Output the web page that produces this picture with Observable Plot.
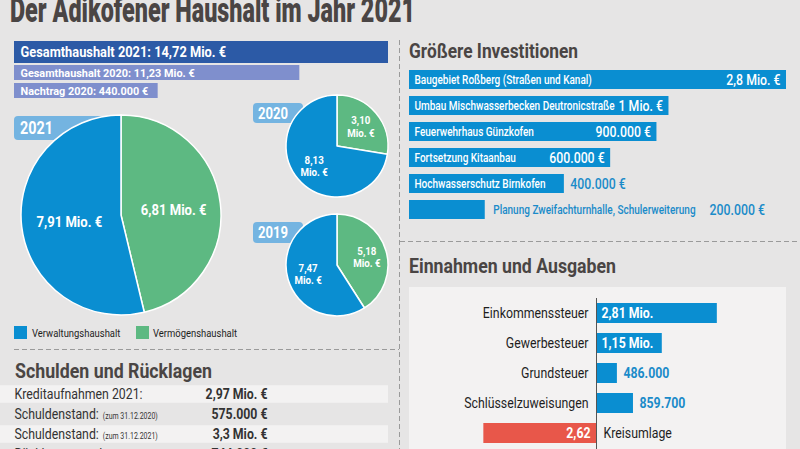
<!DOCTYPE html>
<html><head><meta charset="utf-8">
<script src="https://cdn.jsdelivr.net/npm/d3@7"></script>
<script src="https://cdn.jsdelivr.net/npm/@observablehq/plot@0.6"></script>
<style>
html,body{margin:0;padding:0;background:#e6e5e5;}
#root{position:relative;width:800px;height:449px;overflow:hidden;background:#e6e5e5;}
</style></head><body><div id="root"></div>
<script>
// ---------- data ----------
const pageTitle = "Der Adikofener Haushalt im Jahr 2021";
const sectionTitles = ["Größere Investitionen", "Einnahmen und Ausgaben", "Schulden und Rücklagen"];

const totalLabels = ["Gesamthaushalt 2021: 14,72 Mio. €", "Gesamthaushalt 2020: 11,23 Mio. €", "Nachtrag 2020: 440.000 €"];
const totalValues = [14.72, 11.23, 0.44];

const pieYears = ["2021", "2020", "2019"];
const legendNames = ["Verwaltungshaushalt", "Vermögenshaushalt"];
const pieVerwaltung = [7.91, 8.13, 7.47];
const pieVermoegen = [6.81, 3.10, 5.18];
const pieLabelsVerw = ["7,91 Mio. €", "8,13\nMio. €", "7,47\nMio. €"];
const pieLabelsVerm = ["6,81 Mio. €", "3,10\nMio. €", "5,18\nMio. €"];

const investNames = ["Baugebiet Roßberg (Straßen und Kanal)", "Umbau Mischwasserbecken Deutronicstraße", "Feuerwehrhaus Günzkofen", "Fortsetzung Kitaanbau", "Hochwasserschutz Birnkofen", "Planung Zweifachturnhalle, Schulerweiterung"];
const investValues = [2.8, 1.0, 0.9, 0.6, 0.4, 0.2];
const investLabels = ["2,8 Mio. €", "1 Mio. €", "900.000 €", "600.000 €", "400.000 €", "200.000 €"];

const debtNames = ["Kreditaufnahmen 2021:", "Schuldenstand:", "Schuldenstand:", "Rücklagenstand:"];
const debtNotes = ["", "(zum 31.12.2020)", "(zum 31.12.2021)", ""];
const debtValues = ["2,97 Mio. €", "575.000 €", "3,3 Mio. €", "744.000 €"];

const flowNames = ["Einkommenssteuer", "Gewerbesteuer", "Grundsteuer", "Schlüsselzuweisungen", "Kreisumlage"];
const flowValues = [2.81, 1.15, 0.486, 0.8597, -2.62];
const flowLabels = ["2,81 Mio.", "1,15 Mio.", "486.000", "859.700", "2,62"];

// ---------- styles ----------
const C = {bg:"#e6e5e5", panel:"#f3f2f2", title:"#4a4544", text:"#1e1e1e", blue:"#0a8ed1", blueText:"#1a8bc9",
  green:"#5db982", navy:"#2c5aa6", lav:"#7f8fcd", tab:"#74b4e1", red:"#e8574a", dash:"#9a9a9a"};
const FONT = "Roboto, 'Liberation Sans', sans-serif";
const K = 0.82;
const root = document.getElementById("root");
const W = 800, H = 449;

const ctx = document.createElement("canvas").getContext("2d");
function tw(s, size, weight = 400, k = K) { ctx.font = `${weight} ${size}px Roboto`; return ctx.measureText(s).width * k; }
function squeeze(el, k) {
  if (el.hasAttribute("textLength")) return;
  const L = el.getComputedTextLength();
  if (L > 0) { el.setAttribute("textLength", L * k); el.setAttribute("lengthAdjust", "spacingAndGlyphs"); }
}
function condense(svg, k) {
  svg.querySelectorAll("text").forEach(t => {
    const ts = t.querySelectorAll("tspan");
    if (ts.length) ts.forEach(s => squeeze(s, k)); else squeeze(t, k);
  });
}
function mount(svg, left = 0, top = 0, k = K) {
  svg.style.position = "absolute"; svg.style.left = left + "px"; svg.style.top = top + "px";
  root.appendChild(svg); condense(svg, k); return svg;
}
const baseStyle = {background: "transparent", fontFamily: FONT, overflow: "visible"};
const colorScale = d3.scaleOrdinal(legendNames, [C.blue, C.green]);

// ---------- decoration layer ----------
const decor = d3.create("svg").attr("width", W).attr("height", H).attr("font-family", FONT);
decor.append("rect").attr("x", 409).attr("y", 287).attr("width", 377).attr("height", 170).attr("fill", C.panel);
const dashes = [[399.5, 40, 399.5, 449], [400, 241.5, 800, 241.5], [14, 349.5, 399, 349.5]];
dashes.forEach(([x1, y1, x2, y2]) => decor.append("line").attr("x1", x1).attr("y1", y1).attr("x2", x2).attr("y2", y2)
  .attr("stroke", C.dash).attr("stroke-width", 1).attr("stroke-dasharray", "5 3"));
function title(text, x, y, size, width, weight = 700) {
  decor.append("text").attr("x", x).attr("y", y).attr("font-size", size).attr("font-weight", weight)
    .attr("fill", C.title).attr("textLength", width).attr("lengthAdjust", "spacingAndGlyphs").text(text);
}
title(pageTitle, 10, 21.5, 35, 405, 900);
title(sectionTitles[0], 409, 57.7, 20, 169);
title(sectionTitles[1], 409, 273.3, 20, 207);
title(sectionTitles[2], 15, 378, 20, 197);
// year tabs
const tabs = [{x:14, y:116, w:90, h:24, tx:20, ty:133.5, fs:17.5}, {x:253, y:103, w:50, h:20, tx:258, ty:118.5, fs:16}, {x:253, y:222, w:50, h:21, tx:258, ty:238, fs:16}];
pieYears.forEach((yr, i) => {
  const t = tabs[i];
  decor.append("rect").attr("x", t.x).attr("y", t.y).attr("width", t.w).attr("height", t.h).attr("rx", 4).attr("fill", C.tab);
  decor.append("text").attr("x", t.tx).attr("y", t.ty).attr("font-size", t.fs).attr("font-weight", 700).attr("fill", "white").text(yr);
});
// legend
const legendPos = [{x:14, tx:32}, {x:136, tx:153}];
legendNames.forEach((n, i) => {
  decor.append("rect").attr("x", legendPos[i].x).attr("y", 326).attr("width", 13).attr("height", 13).attr("fill", colorScale(n));
  decor.append("text").attr("x", legendPos[i].tx).attr("y", 336.5).attr("font-size", 11.5).attr("fill", C.text).text(n);
});
mount(decor.node(), 0, 0);

// ---------- total budget bars ----------
const KT = 0.93;
const totDomain = [0, d3.max(totalValues)], totRange = [14, 388];
const totX = d3.scaleLinear(totDomain, totRange);
const totRows = [{h:22, top:41, size:13.8, fill:C.navy}, {h:15, top:65, size:11.7, fill:C.lav}, {h:15, top:83, size:11.7, fill:C.lav}];
totalValues.forEach((v, i) => {
  const r = totRows[i];
  const textW = tw(totalLabels[i], r.size, 700, KT);
  const end = Math.max(v, totX.invert(totRange[0] + 6 + textW + 10));
  const d = [{v, end, label: totalLabels[i]}];
  mount(Plot.plot({
    width: 400, height: r.h, margin: 0, style: baseStyle,
    x: {domain: totDomain, range: totRange, axis: null},
    marks: [
      Plot.barX(d, {x1: 0, x2: "end", fill: r.fill}),
      Plot.text(d, {x: 0, dx: 6, text: "label", textAnchor: "start", fill: "white", fontWeight: 700, fontSize: r.size})
    ]
  }), 0, r.top, KT);
});

// ---------- pies ----------
const pieLayout = [{cx:121, cy:215, r:100, fs:14.5, k:1.05}, {cx:336.5, cy:146, r:51, fs:10.8, k:1.2}, {cx:336.5, cy:264.5, r:51, fs:10.8, k:1.2}];
function pieMark(arcs) {
  return (index, scales) => {
    const cx = scales.x(0), cy = scales.y(0), R = scales.x(1) - scales.x(0);
    const g = d3.create("svg:g").attr("transform", `translate(${cx},${cy})`);
    g.selectAll("path").data(arcs).join("path")
      .attr("d", d3.arc().innerRadius(0).outerRadius(R))
      .attr("fill", a => colorScale(a.data.name))
      .attr("stroke", "white").attr("stroke-width", 1.5).attr("stroke-linejoin", "round");
    return g.node();
  };
}
pieYears.forEach((yr, i) => {
  const L = pieLayout[i];
  const slices = [
    {name: legendNames[1], value: pieVermoegen[i], label: pieLabelsVerm[i]},
    {name: legendNames[0], value: pieVerwaltung[i], label: pieLabelsVerw[i]}
  ];
  const arcs = d3.pie().sort(null).value(d => d.value)(slices);
  const unitArc = d3.arc().innerRadius(0).outerRadius(L.k);
  const labels = arcs.map(a => { const [x, y] = unitArc.centroid(a); return {x, y, label: a.data.label}; });
  const S = 2 * L.r + 4;
  mount(Plot.plot({
    width: S, height: S, margin: 0, style: baseStyle,
    x: {domain: [-1, 1], range: [2, S - 2], axis: null},
    y: {domain: [-1, 1], range: [2, S - 2], axis: null},
    marks: [
      pieMark(arcs),
      Plot.text(labels, {x: "x", y: "y", text: "label", fill: "white", fontWeight: 700, fontSize: L.fs, lineHeight: 1.15})
    ]
  }), L.cx - L.r - 2, L.cy - L.r - 2, 0.9);
});

// ---------- investments ----------
const invDomain = [0.103, 2.8], invRange = [9, 386];
const invScale = d3.scaleLog(invDomain, invRange);
const invLabelSize = 12.2, invValueSize = 15;
const invRows = investNames.map((name, i) => {
  const v = investValues[i];
  const bw = invScale(v) - invScale(invDomain[0]);
  const lw = tw(name, invLabelSize, 500), vw = tw(investLabels[i], invValueSize, 500);
  const labelIn = lw + 10 < bw;
  const valueIn = labelIn && lw + vw + 8 < bw;
  const outX = labelIn ? invScale.invert(invScale(v) + 6) : invScale.invert(invScale(v) + 8 + lw + 14);
  return {name, v, base: invDomain[0], value: investLabels[i], labelIn, valueIn, outX};
});
mount(Plot.plot({
  width: 400, height: 170, margin: 0, style: baseStyle,
  x: {type: "log", domain: invDomain, range: invRange, axis: null},
  y: {type: "band", domain: investNames, range: [7.7, 161.3], paddingInner: 0.27, paddingOuter: 0, axis: null},
  marks: [
    Plot.barX(invRows, {x1: "base", x2: "v", y: "name", fill: C.blue}),
    Plot.text(invRows.filter(d => d.labelIn), {x: "base", y: "name", dx: 5, text: "name", textAnchor: "start", fill: "white", fontWeight: 500, fontSize: invLabelSize}),
    Plot.text(invRows.filter(d => !d.labelIn), {x: "v", y: "name", dx: 8, text: "name", textAnchor: "start", fill: C.blueText, fontWeight: 500, fontSize: invLabelSize}),
    Plot.text(invRows.filter(d => d.valueIn), {x: "v", y: "name", dx: -6, text: "value", textAnchor: "end", fill: "white", fontWeight: 500, fontSize: invValueSize}),
    Plot.text(invRows.filter(d => !d.valueIn), {x: "outX", y: "name", text: "value", textAnchor: "start", fill: C.blueText, fontWeight: 500, fontSize: invValueSize})
  ]
}), 400, 60);

// ---------- debts table ----------
const debtRows = debtNames.map((name, i) => ({i, name, note: debtNotes[i], value: debtValues[i]}));
const debtMarks = [
  Plot.cell(debtRows.filter(d => d.i % 2 === 0), {y: "i", fill: C.panel, insetTop: 1.25, insetBottom: 1.25}),
  Plot.text(debtRows, {y: "i", frameAnchor: "left", dx: 14, text: "name", textAnchor: "start", fill: "#333", fontSize: 15}),
  Plot.text(debtRows, {y: "i", frameAnchor: "left", dx: 267, text: "value", textAnchor: "end", fill: "#333", fontWeight: 700, fontSize: 15})
];
debtRows.filter(d => d.note).forEach(d => {
  debtMarks.push(Plot.text([d], {y: "i", frameAnchor: "left", dx: 14 + tw(d.name, 15) + 4, dy: 2.1, text: "note", textAnchor: "start", fill: "#333", fontSize: 8.5}));
});
mount(Plot.plot({
  width: 400, height: 90, marginTop: 0, marginBottom: 0, marginLeft: 0, marginRight: 12, style: baseStyle,
  y: {type: "band", domain: debtRows.map(d => d.i), range: [3, 85], padding: 0, axis: null},
  marks: debtMarks
}), 0, 380);

// ---------- revenues / expenses ----------
const flowDomain = [-3, 3], flowRange = [596 - 129, 596 + 129];
const flowScale = d3.scaleLinear(flowDomain, flowRange);
const ppu = flowScale(1) - flowScale(0);
const flows = flowNames.map((name, i) => {
  const v = flowValues[i];
  const label = flowLabels[i];
  const inside = Math.abs(v) >= 1;
  const lw = tw(label, 15, 700);
  const len = inside ? Math.max(Math.abs(v), (lw + 14) / ppu) : Math.abs(v);
  return {name, v, end: Math.sign(v) * len, label, inside, pos: v >= 0};
});
mount(Plot.plot({
  width: W, height: H, marginTop: 298, marginBottom: 0, marginLeft: 409, marginRight: 14, style: baseStyle,
  x: {domain: flowDomain, range: flowRange, axis: null},
  y: {type: "band", domain: flowNames, range: [302, 443], paddingInner: 0.35, paddingOuter: 0, axis: null},
  marks: [
    Plot.barX(flows, {x: "end", y: "name", fill: d => d.pos ? C.blue : C.red}),
    Plot.ruleX([0], {stroke: "#555", strokeWidth: 1}),
    Plot.text(flows.filter(d => d.pos), {x: 0, y: "name", dx: -8, text: "name", textAnchor: "end", fill: C.text, fontSize: 15}),
    Plot.text(flows.filter(d => !d.pos), {x: 0, y: "name", dx: 7, text: "name", textAnchor: "start", fill: C.text, fontSize: 15}),
    Plot.text(flows.filter(d => d.pos && d.inside), {x: 0, y: "name", dx: 5, text: "label", textAnchor: "start", fill: "white", fontWeight: 700, fontSize: 15}),
    Plot.text(flows.filter(d => !d.pos && d.inside), {x: 0, y: "name", dx: -6, text: "label", textAnchor: "end", fill: "white", fontWeight: 700, fontSize: 15}),
    Plot.text(flows.filter(d => !d.inside), {x: "end", y: "name", dx: 6, text: "label", textAnchor: "start", fill: C.blueText, fontWeight: 700, fontSize: 15})
  ]
}), 0, 0);
</script></body></html>
